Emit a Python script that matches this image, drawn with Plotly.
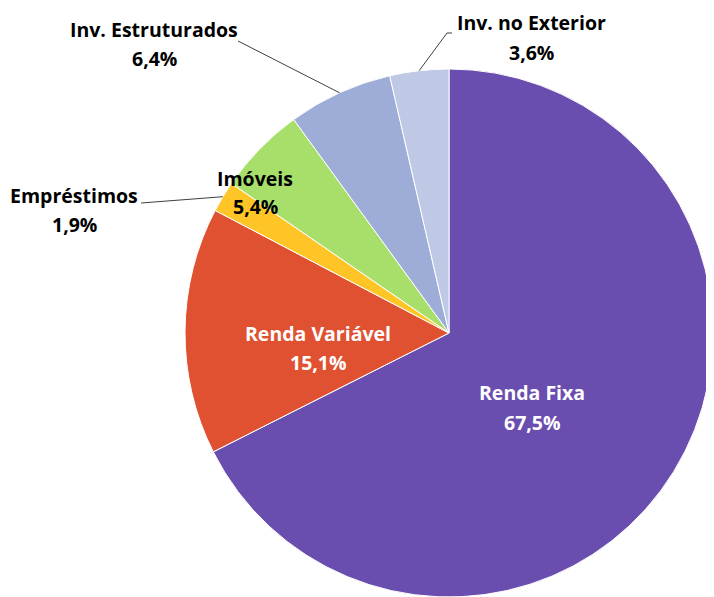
import math
import plotly.graph_objects as go

labels = ["Renda Fixa", "Renda Variável", "Empréstimos", "Imóveis", "Inv. Estruturados", "Inv. no Exterior"]
values = [67.5, 15.1, 1.9, 5.4, 6.4, 3.6]
colors = ["#6A4EAF", "#E05132", "#FFC425", "#A8DF6B", "#9DADD7", "#BFC8E4"]

# page body has an 8px margin: the figure is drawn at page offset (8, 8)
OFF = 8
W, H = 714 - OFF, 597 - OFF
CX, CY, R = 449 - OFF, 333 - OFF, 264

def px(x):
    return (x - OFF) / W

def py(y):
    return 1 - (y - OFF) / H

def ppx(x):  # figure-local coordinates
    return x / W

def ppy(y):
    return 1 - y / H

fig = go.Figure(go.Pie(
    labels=labels, values=values, sort=False, direction="clockwise", rotation=0,
    marker=dict(colors=colors, line=dict(color="white", width=1)),
    textinfo="none", hoverinfo="label+percent", showlegend=False,
    domain=dict(x=[ppx(CX - R), ppx(CX + R)], y=[ppy(CY + R), ppy(CY - R)]),
))

# label layout (page coordinates): center x, name line y, pct line y, text colour, leader outer points
label_layout = {
    "Renda Fixa": (532, 393, 422, "white", None),
    "Renda Variável": (318, 333, 362, "white", None),
    "Empréstimos": (74, 195, 224, "black", [(141, 203)]),
    "Imóveis": (255, 178, 207, "black", None),
    "Inv. Estruturados": (154, 29, 58, "black", [(238, 41)]),
    "Inv. no Exterior": (531, 22, 52, "black", [(452, 33), (447, 33)]),
}

total = sum(values)
cum = 0.0
annotations = []
shapes = []
font = dict(family="Open Sans, Lato, sans-serif", size=19.5, weight="bold")
for lab, v in zip(labels, values):
    mid = (cum + v / 2) / total * 2 * math.pi
    cum += v
    x, yn, yp, col, leader = label_layout[lab]
    pct = f"{v:.1f}".replace(".", ",") + "%"
    for txt, yy in ((lab, yn), (pct, yp)):
        annotations.append(dict(x=px(x), y=py(yy), xref="paper", yref="paper", text=txt,
                                showarrow=False, xanchor="center", yanchor="middle",
                                font=dict(font, color=col)))
    if leader:
        ex = CX + R * math.sin(mid)
        ey = CY - R * math.cos(mid)
        pts = [(a - OFF, b - OFF) for a, b in leader] + [(ex, ey)]
        path = "M " + " L ".join(f"{ppx(a):.5f},{ppy(b):.5f}" for a, b in pts)
        shapes.append(dict(type="path", path=path, xref="paper", yref="paper",
                           line=dict(color="#404040", width=1)))

fig.update_layout(width=W, height=H, margin=dict(l=0, r=0, t=0, b=0),
                  paper_bgcolor="white", plot_bgcolor="white",
                  annotations=annotations, shapes=shapes)
fig.write_html("out.html")
